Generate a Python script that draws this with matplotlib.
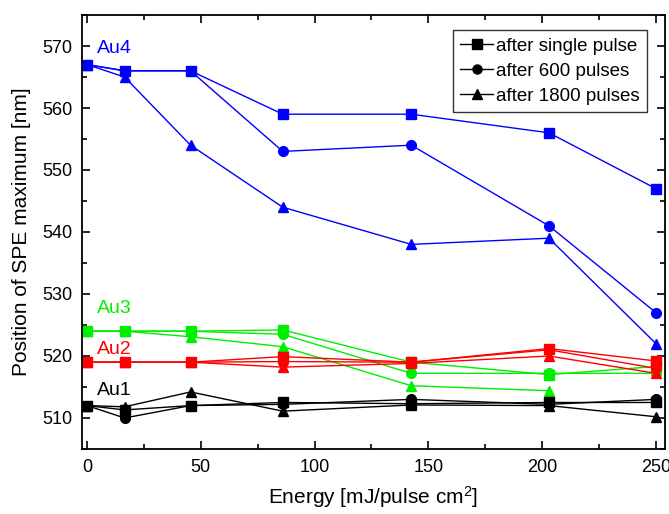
import numpy as np
import matplotlib.pyplot as plt
from matplotlib.lines import Line2D
from matplotlib.ticker import MultipleLocator

plt.rcParams['font.family'] = ['Liberation Sans', 'DejaVu Sans']
plt.rcParams['mathtext.fontset'] = 'custom'
plt.rcParams['mathtext.rm'] = 'Liberation Sans'
plt.rcParams['mathtext.it'] = 'Liberation Sans:italic'

energy = [0, 16.5, 45.5, 86, 142.5, 203, 250]

# Position of SPE maximum [nm] for each sample: (single pulse, 600 pulses, 1800 pulses)
au4_single = [567, 566, 566, 559, 559, 556, 547]
au4_600 = [567, 566, 566, 553, 554, 541, 527]
au4_1800 = [567, 565, 554, 544, 538, 539, 522]

au3_single = [524, 524, 524, 524.2, 519, 517, 518.3]
au3_600 = [524, 524, 524, 523.5, 517.2, 517.2, 517.2]
au3_1800 = [524, 524, 523.1, 521.5, 515.2, 514.4, np.nan]

au2_single = [519, 519, 519, 519.9, 519, 521.2, 519.2]
au2_600 = [519, 519, 519, 519.1, 519, 521, 518]
au2_1800 = [519, 519, 519, 518.2, 518.8, 520, 517.2]

au1_single = [512, 511.3, 512, 512.5, 512.3, 512.5, 512.5]
au1_600 = [512, 510, 512, 512.2, 513, 512.2, 513]
au1_1800 = [512, 511.8, 514.2, 511.1, 512.1, 512, 510.2]

samples = [
    ('Au4', 'blue', (au4_single, au4_600, au4_1800), 569.6),
    ('Au3', '#00ee00', (au3_single, au3_600, au3_1800), 527.6),
    ('Au2', 'red', (au2_single, au2_600, au2_1800), 521.1),
    ('Au1', 'black', (au1_single, au1_600, au1_1800), 514.5),
]
markers = ['s', 'o', '^']
legend_labels = ['after single pulse', 'after 600 pulses', 'after 1800 pulses']

fig = plt.figure(figsize=(6.69, 5.14), dpi=100)
ax = fig.add_axes([0.1226, 0.1265, 0.8714, 0.8443])

for name, color, series, label_y in samples:
    for values, marker in zip(series, markers):
        ax.plot(energy, values, color=color, marker=marker, markersize=7,
                linewidth=1.0)
    ax.text(4.3, label_y, name, color=color, fontsize=14, va='center', ha='left')

ax.set_xlim(-2.2, 254)
ax.set_ylim(505, 575)
ax.xaxis.set_major_locator(MultipleLocator(50))
ax.xaxis.set_minor_locator(MultipleLocator(25))
ax.yaxis.set_major_locator(MultipleLocator(10))
ax.yaxis.set_minor_locator(MultipleLocator(5))
ax.tick_params(which='both', direction='in', top=True, right=True,
               labelsize=13, width=1.2)
ax.tick_params(which='major', length=6, pad=7)
ax.tick_params(which='minor', length=3.5)
for spine in ax.spines.values():
    spine.set_linewidth(1.3)

ax.set_xlabel('Energy [mJ/pulse cm$^2$]', fontsize=15, labelpad=6)
ax.set_ylabel('Position of SPE maximum [nm]', fontsize=15, labelpad=8)

handles = [Line2D([], [], color='black', marker=m, markersize=6.5, linewidth=1.0)
           for m in markers]
leg = ax.legend(handles, legend_labels, loc='upper right', fontsize=13.5,
                frameon=True, fancybox=False, edgecolor='black',
                handlelength=1.75, handletextpad=0.15, borderpad=0.4,
                borderaxespad=0, labelspacing=0.42,
                bbox_to_anchor=(0.969, 0.965))
leg.get_frame().set_linewidth(1.0)

fig.savefig('out.png', dpi=100)
